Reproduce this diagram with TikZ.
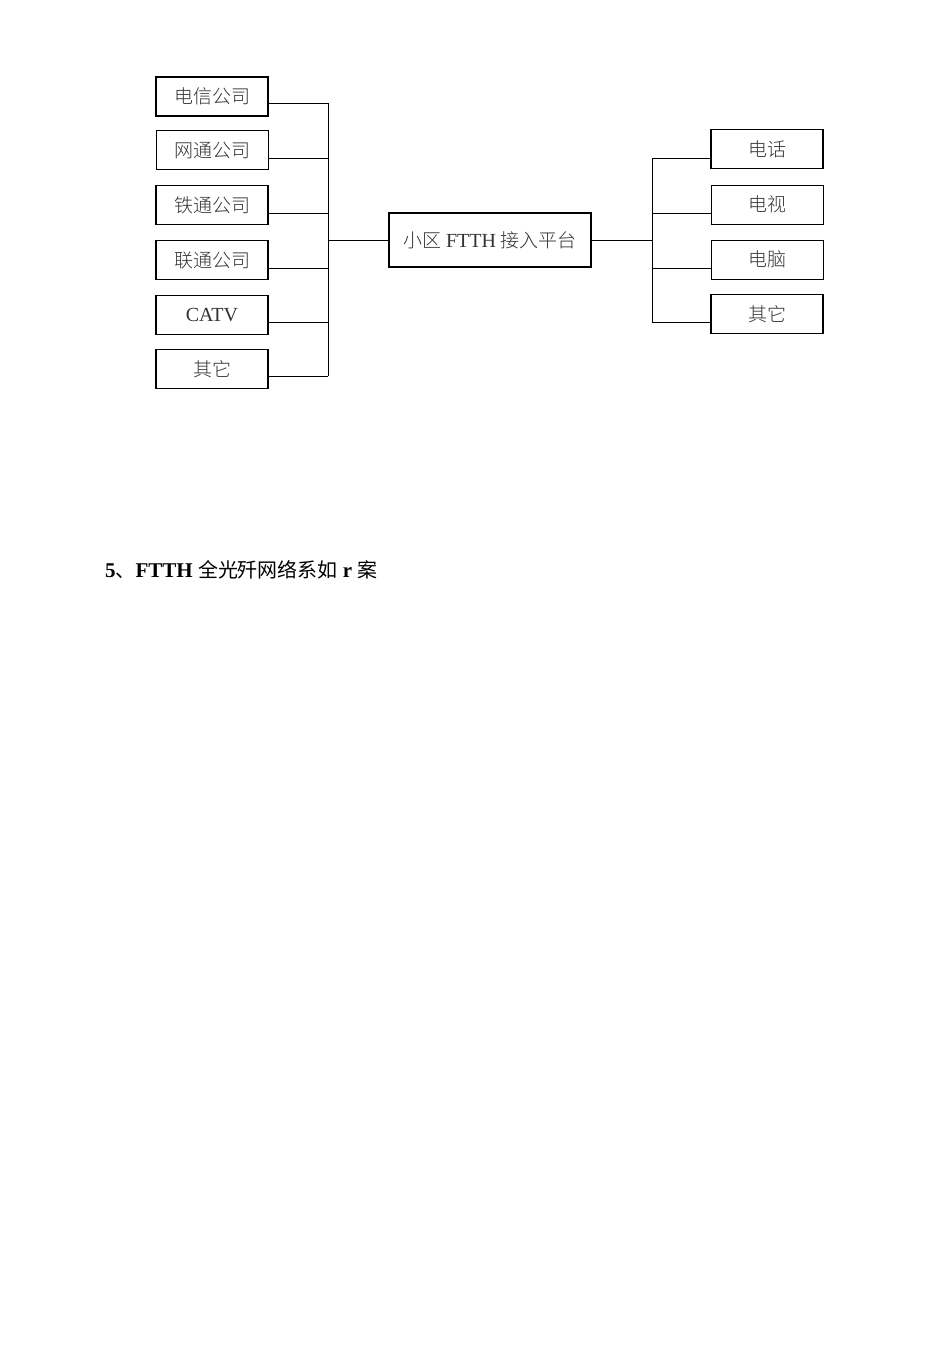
\documentclass[tikz,border=0pt]{standalone}
\usepackage{fontspec}
\setmainfont{Liberation Serif}
\newfontfamily\cjk{Noto Sans CJK SC}[Scale=0.95]
\newfontfamily\cjkl{Noto Sans CJK SC Light}[Scale=0.95]
\definecolor{txt}{HTML}{333333}
\begin{document}
\begin{tikzpicture}[x=1pt,y=-1pt,
  lbox/.style={draw=black,line width=1.4pt,minimum width=112pt,minimum height=39pt,inner sep=0pt,font=\fontsize{20}{20}\selectfont,text=txt},
  thin/.style={line width=0.9pt},
  thick/.style={line width=1.9pt},
  wire/.style={draw=black,line width=1pt}]
\useasboundingbox (0,0) rectangle (950,1347);
% left boxes
\node[lbox,thick] (l1) at (212,96.5) {\cjkl 电信公司\hspace{4pt}};
\node[lbox,thin] (l2) at (212,150) {\cjkl 网通公司\hspace{4pt}};
\node[lbox,thick] (l3) at (212,205) {\cjkl 铁通公司\hspace{4pt}};
\node[lbox] (l4) at (212,260) {\cjkl 联通公司\hspace{4pt}};
\node[lbox,thick] (l5) at (212,315) {CATV};
\node[lbox] (l6) at (212,369) {\cjkl 其它};
% centre
\node[lbox,minimum width=202pt,minimum height=54pt,line width=1.2pt] (c) at (490,240) {\cjkl 小区 {\rmfamily FTTH} 接入平台};
% right boxes
\node[lbox,thick] (r1) at (767,149) {\cjkl 电话};
\node[lbox,thin] (r2) at (767,204.5) {\cjkl 电视};
\node[lbox,thin] (r3) at (767,259.5) {\cjkl 电脑};
\node[lbox,thick] (r4) at (767,314) {\cjkl 其它};
% left bus
\coordinate (lb1) at (328,103);
\coordinate (lb2) at (328,158);
\coordinate (lb3) at (328,213);
\coordinate (lb4) at (328,268);
\coordinate (lb5) at (328,322);
\coordinate (lb6) at (328,376);
\coordinate (lbc) at (328,240);
\draw[wire] (l1.east |- lb1) -- (lb1);
\draw[wire] (l2.east |- lb2) -- (lb2);
\draw[wire] (l3.east |- lb3) -- (lb3);
\draw[wire] (l4.east |- lb4) -- (lb4);
\draw[wire] (l5.east |- lb5) -- (lb5);
\draw[wire] (l6.east |- lb6) -- (lb6);
\draw[wire] (lb1) -- (lb6);
\draw[wire] (lbc) -- (c.west);
% right bus
\coordinate (rb1) at (652,158);
\coordinate (rb2) at (652,213);
\coordinate (rb3) at (652,268);
\coordinate (rb4) at (652,322);
\coordinate (rbc) at (652,240);
\draw[wire] (c.east) -- (rbc);
\draw[wire] (rb1) -- (rb4);
\draw[wire] (rb1) -- (r1.west |- rb1);
\draw[wire] (rb2) -- (r2.west |- rb2);
\draw[wire] (rb3) -- (r3.west |- rb3);
\draw[wire] (rb4) -- (r4.west |- rb4);
% heading
\node[anchor=base west,inner sep=0pt,font=\fontsize{21}{21}\selectfont] (h) at (105,577) {\textbf{5}{\cjk 、}\textbf{FTTH} {\cjk 全光歼网络系如} \textbf{r} {\cjk 案}};
\end{tikzpicture}
\end{document}
